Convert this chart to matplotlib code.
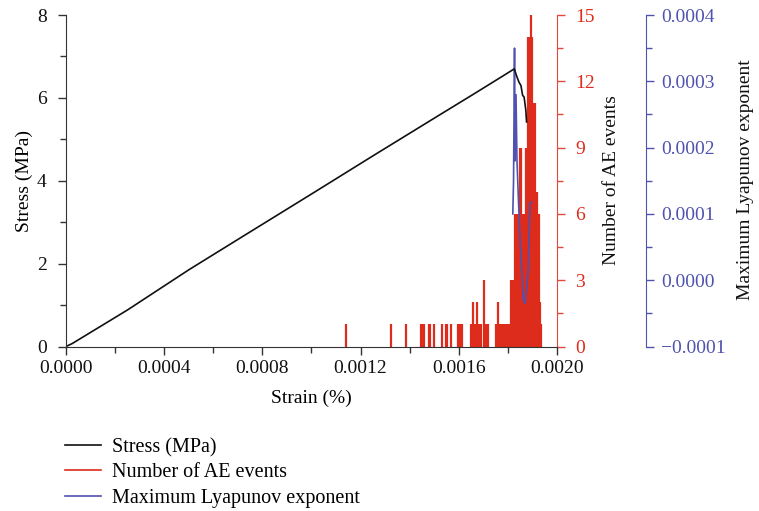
import matplotlib
matplotlib.use("Agg")
import matplotlib.pyplot as plt
from matplotlib.lines import Line2D
from matplotlib.ticker import MultipleLocator, FuncFormatter

plt.rcParams['font.family'] = ['Liberation Serif', 'DejaVu Serif']

# ---- data ----
stress_strain = [0, 0.000025, 0.00025, 0.0005, 0.00071, 0.001, 0.00125, 0.0015,
                 0.00166, 0.00172, 0.00178, 0.001826, 0.001836, 0.001845,
                 0.001853, 0.00186, 0.001866, 0.001873, 0.001876]
stress_val = [0, 0.07, 0.88, 1.85, 2.62, 3.68, 4.60, 5.51,
              6.09, 6.31, 6.53, 6.70, 6.52, 6.38,
              6.30, 6.06, 6.02, 5.70, 5.42]

ae_strain = [0.001141, 0.001323, 0.001383, 0.001445, 0.001452, 0.001459, 0.001478,
             0.001483, 0.001501, 0.001531, 0.001547, 0.001551, 0.001569, 0.001598,
             0.001603, 0.001607, 0.001612, 0.00165, 0.001659, 0.001666, 0.001673,
             0.001677, 0.001688, 0.001692, 0.001704, 0.00171, 0.001718,
             0.001752, 0.001756, 0.00176, 0.001764, 0.001768, 0.001772, 0.001776,
             0.00178, 0.001784, 0.001788, 0.001792, 0.001797, 0.001801, 0.001805,
             0.001809, 0.001813, 0.001817, 0.001821, 0.001825, 0.001829, 0.001833,
             0.001837, 0.001841, 0.001845, 0.001849, 0.001854, 0.001858, 0.001862,
             0.001866, 0.00187, 0.001874, 0.001878, 0.001882, 0.001886, 0.00189,
             0.001894, 0.001898, 0.001902, 0.001906, 0.00191, 0.001915, 0.001919,
             0.001923, 0.001927, 0.001931, 0.001935]
ae_count = [1, 1, 1, 1, 1, 1, 1,
            1, 1, 1, 1, 1, 1, 1,
            1, 1, 1, 1, 2, 1, 2,
            1, 1, 1, 3, 1, 1,
            1, 1, 2, 1, 1, 1, 1,
            1, 1, 1, 1, 1, 1, 1,
            1, 3, 3, 3, 3, 6, 6,
            5, 6, 6, 9, 9, 5, 6,
            4, 6, 9, 9, 14, 14, 14,
            15, 14, 11, 11, 11, 7, 7,
            6, 6, 2, 1]

ly_strain = [0.00182, 0.001823, 0.001827, 0.001829, 0.001833, 0.001837, 0.001843,
             0.001849, 0.001863, 0.00187, 0.001883, 0.00189, 0.001897]
ly_val = [0.0001, 0.00015, 0.00035, 0.00018, 0.00028, 0.00018, 0.00012,
          0.000065, -0.00003, -0.000035, 0.000015, 0.000116, 0.000118]

xticks = [0.0, 0.0004, 0.0008, 0.0012, 0.0016, 0.0020]

BLACK = '#111111'
RED = '#DD2C1C'
RED_AX = '#E4473B'
BLUE = '#4F52AE'
FS = 14
W, H = 759, 511

fmt4 = FuncFormatter(lambda v, p: ('%.4f' % v).replace('-', '\u2212'))

fig = plt.figure(figsize=(7.59, 5.11), dpi=100)
ax = fig.add_axes([66 / W, 1 - 346.5 / H, 491 / W, 331.5 / H])
ax_ae = ax.twinx()
ax_ly = ax.twinx()

# AE events
ax_ae.vlines(ae_strain, 0, ae_count, color=RED, linewidth=1.6)
ax_ae.set_ylim(0, 15)
ax_ae.yaxis.set_major_locator(MultipleLocator(3))
ax_ae.yaxis.set_minor_locator(MultipleLocator(1.5))
ax_ae.tick_params(axis='y', colors=RED_AX, labelcolor=RED, labelsize=FS,
                  direction='out', length=6, width=1, pad=7)
ax_ae.tick_params(axis='y', which='minor', colors=RED_AX, length=4, width=1)
for s in ['top', 'left', 'bottom']:
    ax_ae.spines[s].set_visible(False)
ax_ae.spines['right'].set_color(RED_AX)
fig.text(612 / W, 1 - 180 / H, 'Number of AE events', rotation=90,
         ha='center', va='center', fontsize=FS, color=BLACK)

# Lyapunov
ax_ly.plot(ly_strain, ly_val, color=BLUE, linewidth=1.2)
ax_ly.set_ylim(-0.0001, 0.0004)
ax_ly.spines['right'].set_position(('axes', (646 - 66) / 491))
ax_ly.yaxis.set_major_locator(MultipleLocator(0.0001))
ax_ly.yaxis.set_minor_locator(MultipleLocator(0.00005))
ax_ly.yaxis.set_major_formatter(fmt4)
ax_ly.tick_params(axis='y', colors=BLUE, labelcolor=BLUE, labelsize=FS,
                  direction='out', length=6, width=1, pad=5)
ax_ly.tick_params(axis='y', which='minor', colors=BLUE, length=4, width=1)
for s in ['top', 'left', 'bottom']:
    ax_ly.spines[s].set_visible(False)
ax_ly.spines['right'].set_color(BLUE)
fig.text(746 / W, 1 - 180 / H, 'Maximum Lyapunov exponent', rotation=90,
         ha='center', va='center', fontsize=FS, color=BLACK)

# Stress on top
ax.set_zorder(3)
ax.patch.set_visible(False)
ax.plot(stress_strain, stress_val, color=BLACK, linewidth=1.2)
ax.set_xlim(0, 0.002)
ax.set_ylim(0, 8)
ax.set_xticks(xticks)
ax.xaxis.set_major_formatter(fmt4)
ax.xaxis.set_minor_locator(MultipleLocator(0.0002))
ax.yaxis.set_major_locator(MultipleLocator(2))
ax.yaxis.set_minor_locator(MultipleLocator(1))
ax.set_xlabel('Strain (%)', fontsize=FS, labelpad=9)
ax.set_ylabel('Stress (MPa)', fontsize=FS, labelpad=3)
ax.tick_params(axis='both', labelsize=FS, direction='out', length=6, width=1,
               colors='#333333', labelcolor=BLACK)
ax.tick_params(axis='y', pad=8)
ax.tick_params(axis='both', which='minor', length=4, width=1, colors='#333333')
ax.spines['top'].set_visible(False)
ax.spines['right'].set_visible(False)
for s in ['left', 'bottom']:
    ax.spines[s].set_color('#333333')

handles = [Line2D([], [], color=BLACK, lw=1.2),
           Line2D([], [], color=RED, lw=1.2),
           Line2D([], [], color=BLUE, lw=1.2)]
labels = ['Stress (MPa)', 'Number of AE events', 'Maximum Lyapunov exponent']
fig.legend(handles, labels, loc='upper left', bbox_to_anchor=(57 / W, 1 - 430 / H),
           frameon=False, fontsize=14.5, handlelength=1.8, handletextpad=0.55,
           labelspacing=0.3, borderaxespad=0)

fig.savefig('out.png', dpi=100)
